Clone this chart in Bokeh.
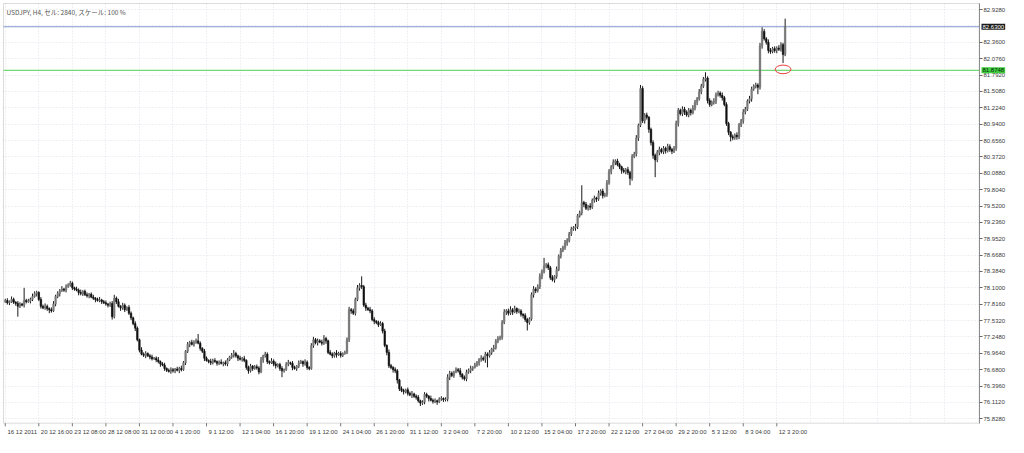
from bokeh.plotting import figure
from bokeh.models import (LinearAxis, FixedTicker, PrintfTickFormatter, Label, Range1d,
                          BoxAnnotation)
from bokeh.embed import file_html
from bokeh.resources import INLINE

# ---------------- data (USDJPY H4) ----------------
first_open = 77.86
close = [
    77.88, 77.84, 77.86, 77.90, 77.85, 77.83, 77.78, 77.82, 77.80, 77.88,
    77.86, 77.87, 77.90, 77.95, 78.00, 78.02, 77.90, 77.78, 77.75, 77.78,
    77.74, 77.72, 77.70, 77.82, 77.95, 78.00, 78.05, 78.08, 78.06, 78.12,
    78.15, 78.18, 78.10, 78.08, 78.06, 78.02, 78.00, 78.04, 77.98, 77.96,
    77.99, 77.94, 77.92, 77.90, 77.88, 77.89, 77.86, 77.84, 77.82, 77.80,
    77.83, 77.60, 77.92, 77.86, 77.78, 77.75, 77.80, 77.72, 77.76, 77.66,
    77.58, 77.48, 77.40, 77.20, 77.02, 76.95, 76.93, 76.96, 76.92, 76.90,
    76.87, 76.88, 76.85, 76.82, 76.78, 76.76, 76.70, 76.67, 76.65, 76.68,
    76.66, 76.69, 76.67, 76.70, 76.68, 76.80, 77.00, 77.12, 77.15, 77.12,
    77.16, 77.18, 77.14, 77.05, 77.00, 76.88, 76.84, 76.82, 76.80, 76.84,
    76.82, 76.79, 76.81, 76.79, 76.80, 76.78, 76.85, 76.90, 76.93, 76.96,
    76.92, 76.88, 76.86, 76.87, 76.84, 76.72, 76.66, 76.74, 76.70, 76.73,
    76.71, 76.64, 76.85, 76.92, 76.95, 76.82, 76.80, 76.83, 76.78, 76.75,
    76.77, 76.70, 76.66, 76.68, 76.78, 76.80, 76.79, 76.72, 76.70, 76.74,
    76.80, 76.82, 76.78, 76.81, 76.72, 76.70, 77.10, 77.20, 77.15, 77.18,
    77.16, 77.14, 77.22, 77.18, 76.98, 76.95, 76.92, 76.97, 76.94, 76.96,
    76.93, 76.96, 76.98, 77.20, 77.72, 77.70, 77.66, 77.90, 78.10, 78.14,
    78.12, 77.80, 77.75, 77.72, 77.70, 77.55, 77.52, 77.50, 77.46, 77.48,
    77.35, 77.10, 76.98, 76.75, 76.72, 76.68, 76.66, 76.50, 76.35, 76.32,
    76.30, 76.33, 76.27, 76.24, 76.26, 76.22, 76.20, 76.14, 76.10, 76.12,
    76.25, 76.22, 76.18, 76.15, 76.13, 76.14, 76.12, 76.17, 76.18, 76.16,
    76.17, 76.55, 76.62, 76.58, 76.64, 76.68, 76.66, 76.60, 76.55, 76.52,
    76.64, 76.67, 76.70, 76.72, 76.76, 76.80, 76.86, 76.88, 76.86, 76.95,
    76.92, 76.98, 77.04, 77.06, 77.18, 77.22, 77.24, 77.50, 77.68, 77.70,
    77.66, 77.72, 77.68, 77.74, 77.69, 77.70, 77.64, 77.62, 77.55, 77.50,
    77.56, 77.98, 78.08, 78.05, 78.12, 78.30, 78.38, 78.48, 78.50, 78.45,
    78.28, 78.24, 78.30, 78.42, 78.65, 78.75, 78.80, 78.88, 78.92, 79.04,
    79.12, 79.14, 79.16, 79.35, 79.40, 79.58, 79.55, 79.48, 79.52, 79.50,
    79.62, 79.66, 79.64, 79.74, 79.78, 79.70, 79.72, 79.92, 80.12, 80.20,
    80.28, 80.30, 80.24, 80.20, 80.14, 80.12, 80.15, 80.10, 80.00, 80.38,
    80.42, 80.70, 80.92, 81.56, 81.00, 81.10, 81.06, 80.85, 80.62, 80.40,
    80.32, 80.45, 80.50, 80.46, 80.52, 80.48, 80.55, 80.50, 80.47, 80.52,
    80.95, 81.18, 81.12, 81.20, 81.15, 81.10, 81.18, 81.14, 81.22, 81.32,
    81.38, 81.50, 81.60, 81.72, 81.74, 81.35, 81.28, 81.32, 81.34, 81.45,
    81.48, 81.44, 81.40, 81.28, 80.95, 80.80, 80.72, 80.70, 80.75, 80.72,
    80.92, 81.00, 81.15, 81.20, 81.34, 81.38, 81.55, 81.60, 81.62, 81.58,
    82.30, 82.55, 82.42, 82.36, 82.22, 82.20, 82.25, 82.22, 82.26, 82.24,
    82.32, 82.15, 82.63,
]
# upper / lower shadow lengths in pips (0.01)
wick_up = [
    3, 4, 2, 5, 3, 2, 4, 3, 2, 22,
    3, 4, 3, 5, 4, 3, 2, 4, 3, 5,
    3, 2, 4, 5, 3, 4, 3, 5, 2, 4,
    3, 4, 3, 2, 4, 3, 5, 2, 3, 4,
    2, 3, 4, 2, 3, 5, 2, 3, 4, 2,
    3, 4, 6, 3, 5, 2, 4, 3, 2, 4,
    3, 2, 4, 3, 2, 5, 3, 4, 2, 3,
    4, 2, 3, 5, 2, 3, 4, 2, 3, 4,
    3, 2, 4, 3, 5, 3, 2, 4, 3, 5,
    3, 4, 12, 3, 2, 4, 3, 2, 5, 3,
    4, 2, 3, 5, 2, 4, 3, 2, 4, 6,
    3, 2, 4, 3, 5, 2, 3, 4, 2, 3,
    4, 3, 5, 2, 4, 3, 2, 5, 3, 4,
    2, 3, 4, 2, 3, 5, 2, 4, 3, 2,
    4, 3, 2, 5, 3, 2, 4, 5, 3, 4,
    3, 4, 6, 3, 2, 4, 3, 2, 5, 3,
    4, 2, 3, 4, 5, 3, 4, 3, 5, 4,
    16, 3, 4, 2, 5, 3, 4, 2, 3, 4,
    3, 4, 2, 5, 3, 2, 4, 3, 2, 4,
    3, 2, 4, 3, 5, 2, 3, 4, 2, 3,
    4, 3, 2, 5, 3, 4, 2, 3, 4, 2,
    3, 5, 4, 3, 2, 4, 3, 5, 2, 3,
    4, 3, 5, 2, 4, 3, 2, 5, 3, 4,
    3, 4, 2, 5, 3, 4, 3, 4, 5, 3,
    4, 6, 3, 5, 2, 4, 3, 2, 4, 3,
    3, 4, 5, 3, 4, 5, 4, 14, 3, 4,
    3, 4, 2, 5, 3, 4, 3, 5, 4, 3,
    4, 3, 5, 3, 4, 30, 3, 4, 2, 5,
    3, 4, 2, 5, 3, 4, 3, 5, 4, 3,
    5, 3, 4, 3, 2, 4, 3, 5, 3, 4,
    4, 5, 3, 6, 4, 3, 4, 2, 3, 4,
    3, 4, 5, 3, 4, 3, 5, 4, 3, 4,
    5, 4, 3, 5, 4, 3, 4, 3, 5, 4,
    3, 5, 4, 4, 10, 3, 4, 3, 5, 4,
    4, 3, 5, 3, 4, 3, 2, 4, 3, 5,
    4, 3, 5, 4, 3, 5, 4, 3, 4, 3,
    5, 7, 4, 3, 5, 4, 3, 4, 3, 5,
    4, 3, 14,
]
wick_dn = [
    2, 3, 4, 2, 3, 4, 18, 3, 2, 4,
    3, 2, 4, 3, 2, 5, 3, 4, 2, 3,
    4, 6, 3, 2, 4, 3, 5, 2, 3, 4,
    2, 3, 4, 3, 2, 5, 3, 4, 2, 3,
    4, 2, 3, 5, 2, 3, 4, 2, 3, 4,
    3, 5, 3, 4, 2, 5, 3, 4, 2, 3,
    4, 3, 5, 3, 4, 2, 3, 5, 2, 4,
    3, 2, 4, 3, 5, 2, 4, 3, 2, 4,
    3, 4, 2, 5, 3, 2, 4, 3, 5, 2,
    4, 3, 2, 4, 3, 5, 2, 3, 4, 3,
    2, 4, 3, 2, 5, 3, 4, 2, 3, 4,
    3, 5, 2, 4, 3, 4, 5, 3, 4, 2,
    3, 4, 2, 5, 3, 4, 3, 2, 4, 5,
    3, 4, 11, 3, 2, 4, 3, 5, 2, 4,
    3, 2, 5, 3, 4, 3, 2, 4, 3, 5,
    2, 4, 3, 5, 3, 2, 4, 3, 5, 2,
    4, 3, 2, 3, 4, 5, 3, 4, 3, 5,
    4, 3, 5, 2, 4, 3, 5, 3, 4, 2,
    4, 3, 5, 4, 3, 5, 4, 6, 4, 3,
    5, 3, 4, 2, 5, 3, 4, 3, 5, 3,
    4, 3, 5, 2, 4, 3, 5, 2, 3, 4,
    3, 4, 5, 3, 4, 2, 3, 5, 4, 3,
    4, 3, 5, 4, 2, 3, 5, 4, 3, 6,
    20, 3, 4, 5, 3, 4, 3, 4, 3, 5,
    4, 3, 5, 2, 4, 3, 4, 5, 4, 14,
    4, 3, 5, 4, 3, 4, 5, 3, 4, 4,
    4, 3, 5, 4, 3, 4, 3, 4, 5, 3,
    4, 3, 5, 4, 3, 4, 5, 3, 4, 5,
    3, 4, 5, 3, 4, 5, 3, 4, 3, 5,
    4, 5, 3, 4, 6, 3, 5, 4, 12, 4,
    3, 4, 5, 3, 4, 5, 4, 6, 5, 6,
    30, 4, 5, 3, 4, 5, 3, 4, 5, 3,
    4, 5, 3, 4, 5, 3, 4, 5, 3, 4,
    5, 3, 4, 3, 4, 5, 4, 3, 4, 5,
    3, 4, 5, 3, 4, 5, 8, 4, 3, 5,
    4, 3, 5, 4, 3, 4, 5, 3, 4, 12,
    4, 5, 3, 4, 5, 4, 3, 4, 5, 3,
    4, 15, 3,
]
x_labels = [
    "16 12 2011", "20 12 16:00", "23 12 08:00", "28 12 08:00", "31 12 00:00",
    "4 1 20:00", "9 1 12:00", "12 1 04:00", "16 1 20:00", "19 1 12:00",
    "24 1 04:00", "26 1 20:00", "31 1 12:00", "3 2 04:00", "7 2 20:00",
    "10 2 12:00", "15 2 04:00", "17 2 20:00", "22 2 12:00", "27 2 04:00",
    "29 2 20:00", "5 3 12:00", "8 3 04:00", "12 3 20:00",
]
bars_per_label = 16
y_ticks = [82.928, 82.644, 82.360, 82.076, 81.792, 81.508, 81.224, 80.940,
           80.656, 80.372, 80.088, 79.804, 79.520, 79.236, 78.952, 78.668,
           78.384, 78.100, 77.816, 77.532, 77.248, 76.964, 76.680, 76.396,
           76.112, 75.828]
bid_price = 82.63
level_price = 81.8748
title_text = "USDJPY, H4, セル: 2840, スケール: 100 %"
mark_bar, mark_price = 371.0, 81.89   # red circle annotation

assert len(close) == len(wick_up) == len(wick_dn)

# ---------------- layout constants ----------------
W, H = 1008, 437
BORDER_L, BORDER_T = 2, 2
LABEL_COL_PX = 29          # room for the price labels right of the chart box
X_START, X_CHART_END = -0.84, 464.7
Y_START, Y_END = 75.752, 83.033
FONT = "Liberation Sans"
TXT = "#3a3a3a"
FRAME_COL = "#8c8c8c"

frame_w = W - BORDER_L
chart_w = frame_w - 1 - LABEL_COL_PX
px_per_bar = chart_w / (X_CHART_END - X_START)
x_lo = X_START - 1.0 / px_per_bar
x_hi = X_CHART_END + LABEL_COL_PX / px_per_bar
y_pad_top = 0.018
y_pad_bot = 0.075           # leaves room for the small time ticks below the box

n = len(close)
idx = list(range(n))
opens = [first_open] + close[:-1]
top = [max(o, c) for o, c in zip(opens, close)]
bot = [min(o, c) for o, c in zip(opens, close)]
high = [t + u / 100.0 for t, u in zip(top, wick_up)]
low = [b - d / 100.0 for b, d in zip(bot, wick_dn)]
body_col = ["#7a7a7a" if c >= o else "#111111" for o, c in zip(opens, close)]

p = figure(width=W, height=H, x_range=Range1d(x_lo, x_hi),
           y_range=Range1d(Y_START - y_pad_bot, Y_END + y_pad_top),
           x_axis_location=None, y_axis_location=None, output_backend="svg",
           toolbar_location=None, min_border_left=BORDER_L, min_border_top=BORDER_T,
           min_border_right=0, min_border_bottom=0)
p.background_fill_color = "white"
p.border_fill_color = "white"
p.outline_line_color = None

# grids (dotted)
grid_ticks = list(range(0, int(X_CHART_END) + 1, bars_per_label))
p.xgrid.ticker = FixedTicker(ticks=grid_ticks)
p.ygrid.ticker = FixedTicker(ticks=y_ticks)
for g in (p.xgrid, p.ygrid):
    g.grid_line_color = "#e0e3e8"
    g.grid_line_dash = "1 2"
    g.grid_line_width = 1
# blank out the grid outside the chart box
p.add_layout(BoxAnnotation(left=X_CHART_END, fill_color="white", fill_alpha=1.0,
                           line_color=None, level="underlay"))
p.add_layout(BoxAnnotation(top=Y_START, fill_color="white", fill_alpha=1.0,
                           line_color=None, level="underlay"))

# chart box
p.add_layout(BoxAnnotation(left=X_START, right=X_CHART_END, bottom=Y_START, top=Y_END,
                           fill_alpha=0, line_color=FRAME_COL, line_width=1, level="underlay"))

# price axis drawn on the chart's right edge (the tick hidden by the bid label is left out)
axis_ticks = [t for t in y_ticks if abs(t - bid_price) > 0.03]
yaxis = LinearAxis(ticker=FixedTicker(ticks=axis_ticks), formatter=PrintfTickFormatter(format="%.4f"),
                   fixed_location=X_CHART_END, bounds=(Y_START, Y_END),
                   major_tick_out=3, major_tick_in=0, minor_tick_out=0, minor_tick_in=0,
                   major_label_standoff=1, major_label_text_font_size="6px",
                   major_label_text_font=FONT, major_label_text_color=TXT,
                   axis_line_color=FRAME_COL, major_tick_line_color="#666666")
p.add_layout(yaxis, "right")

# time axis: labels left-aligned to their bar (centred labels shifted right)
x_ticks = [k * bars_per_label for k in range(len(x_labels))]
def text_w(s, fs=6.0):
    return sum(fs * (0.278 if ch in " :." else 0.556) for ch in s)
lab_pos = [round(t + (text_w(s) / 2 + 2) / px_per_bar, 2) for t, s in zip(x_ticks, x_labels)]
xaxis_l = LinearAxis(ticker=FixedTicker(ticks=lab_pos), bounds=(X_START, X_CHART_END),
                     major_label_overrides={pos: s for pos, s in zip(lab_pos, x_labels)},
                     major_tick_out=0, major_tick_in=0, minor_tick_out=0, minor_tick_in=0,
                     axis_line_color=None, major_tick_line_color=None,
                     major_label_standoff=1, major_label_text_font_size="6px",
                     major_label_text_font=FONT, major_label_text_color=TXT)
p.add_layout(xaxis_l, "below")
# small tick marks under the chart box at each time label
tick_len = 0.055
p.segment(x0=x_ticks, y0=[Y_START] * len(x_ticks), x1=x_ticks,
          y1=[Y_START - tick_len] * len(x_ticks), line_color="#777777", line_width=1)

# horizontal lines (bid line and drawn level), stopping at the chart's right edge
p.segment(x0=[X_START, X_START], y0=[bid_price, level_price],
          x1=[X_CHART_END, X_CHART_END], y1=[bid_price, level_price],
          line_color=["#8199d0", "#4fd04f"], line_width=1)

# candles
p.segment(x0=idx, y0=low, x1=idx, y1=high, line_color="#1a1a1a", line_width=1)
p.vbar(x=idx, width=0.72, top=top, bottom=bot, fill_color=body_col, line_color=body_col,
       line_width=0.6)

# red circle marker
p.ellipse(x=[mark_bar], y=[mark_price], width=7.5, height=0.15, fill_color=None,
          line_color="#e8413c", line_width=1)

# price labels on the price axis
p.add_layout(Label(x=X_CHART_END, y=bid_price, x_offset=2, text="%.4f" % bid_price,
                   text_font_size="6px", text_font=FONT, text_color="white",
                   text_baseline="middle", background_fill_color="#1c1c1c",
                   background_fill_alpha=1.0, padding=1))
p.add_layout(Label(x=X_CHART_END, y=level_price, x_offset=2, text="%.4f" % level_price,
                   text_font_size="6px", text_font=FONT, text_color="#0a2a0a",
                   text_baseline="middle", background_fill_color="#3fcf3f",
                   background_fill_alpha=1.0, padding=1))

# header text
p.add_layout(Label(x=X_START, y=Y_END, x_offset=3, y_offset=-3, text=title_text,
                   text_font_size="6.5px", text_font="Noto Sans CJK JP", text_color="#555555",
                   text_baseline="top"))

open("out.html", "w").write(file_html(p, INLINE))
